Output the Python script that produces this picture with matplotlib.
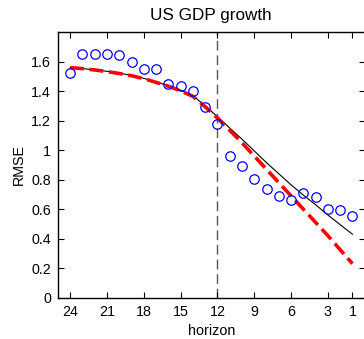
import numpy as np
import matplotlib
matplotlib.use("Agg")
import matplotlib.pyplot as plt

plt.rcParams["font.family"] = ["Liberation Sans", "DejaVu Sans"]
plt.rcParams["font.size"] = 10.3

# forecast horizons (months)
horizon = np.arange(24, 0, -1)

# RMSE of each model by horizon
rmse_obs = [1.52, 1.655, 1.655, 1.65, 1.645, 1.598, 1.548, 1.553, 1.449, 1.435, 1.401, 1.291,
            1.178, 0.961, 0.893, 0.807, 0.737, 0.692, 0.665, 0.712, 0.683, 0.604, 0.597, 0.556]
rmse_black = [1.56, 1.553, 1.545, 1.535, 1.522, 1.507, 1.487, 1.463, 1.437, 1.407, 1.37, 1.30,
              1.227, 1.15, 1.075, 0.995, 0.915, 0.84, 0.765, 0.695, 0.63, 0.56, 0.495, 0.43]
rmse_red = [1.56, 1.553, 1.544, 1.533, 1.52, 1.505, 1.485, 1.46, 1.434, 1.403, 1.365, 1.295,
            1.218, 1.135, 1.05, 0.96, 0.87, 0.78, 0.69, 0.60, 0.51, 0.42, 0.325, 0.23]

xticks = [24, 21, 18, 15, 12, 9, 6, 3, 1]
yticks = [0, 0.2, 0.4, 0.6, 0.8, 1.0, 1.2, 1.4, 1.6]
ytick_labels = ["0", "0.2", "0.4", "0.6", "0.8", "1", "1.2", "1.4", "1.6"]

fig = plt.figure(figsize=(3.64, 3.39), dpi=100)
ax = fig.add_axes([0.159, 0.122, 0.843, 0.783])

ax.axvline(12, color="#555555", linestyle=(0, (7, 3.5)), linewidth=1.0, zorder=1)
ax.plot(horizon, rmse_obs, "o", markersize=6.8, markerfacecolor="none",
        markeredgecolor="blue", markeredgewidth=0.9, zorder=3)
ax.plot(horizon, rmse_black, color="black", linewidth=0.8, zorder=2)
ax.plot(horizon, rmse_red, color="red", linewidth=2.6, linestyle=(0, (3.8, 1.6)), zorder=2)

ax.set_xlim(25, 0)
ax.set_ylim(0, 1.8)
ax.set_xticks(xticks)
ax.set_xticklabels([str(t) for t in xticks])
ax.set_yticks(yticks)
ax.set_yticklabels(ytick_labels)
ax.tick_params(direction="in", top=True, right=True, length=4, width=0.8, pad=5)
for s in ax.spines.values():
    s.set_linewidth(1.0)

ax.set_title("US GDP growth", pad=9)
ax.set_xlabel("horizon", labelpad=4)
ax.set_ylabel("RMSE", labelpad=4)

fig.savefig("out.png", dpi=100)
